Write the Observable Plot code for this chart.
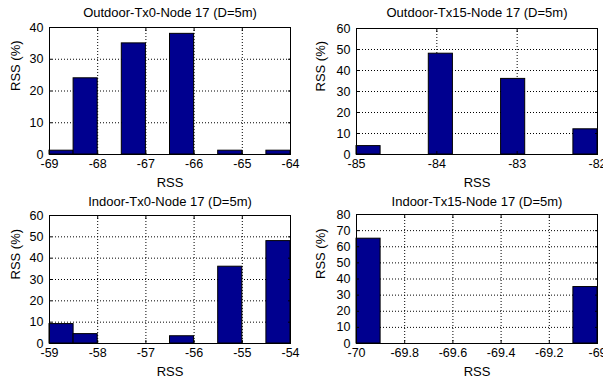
<!DOCTYPE html>
<html><head><meta charset="utf-8">
<script src="https://cdn.jsdelivr.net/npm/d3@7"></script>
<script src="https://cdn.jsdelivr.net/npm/@observablehq/plot@0.6"></script>
<style>
body{margin:0;background:#fff}
#c{position:relative;width:603px;height:380px;overflow:hidden;background:#fff}
.p{position:absolute}
</style>
</head><body><div id="c"></div>
<script>
// ---- Data ----
const titles = ["Outdoor-Tx0-Node 17 (D=5m)", "Outdoor-Tx15-Node 17 (D=5m)", "Indoor-Tx0-Node 17 (D=5m)", "Indoor-Tx15-Node 17 (D=5m)"];
const xLabel = "RSS";
const yLabel = "RSS (%)";

// bin left edges (RSS) and bin width, bar heights (% of samples)
const outTx0Bins = [-69, -68.5, -68, -67.5, -67, -66.5, -66, -65.5, -65, -64.5];
const outTx0Width = 0.5;
const outTx0Vals = [1.2, 24, 0, 35, 0, 38, 0, 1.2, 0, 1.2];

const outTx15Bins = [-85, -84.7, -84.4, -84.1, -83.8, -83.5, -83.2, -82.9, -82.6, -82.3];
const outTx15Width = 0.3;
const outTx15Vals = [4, 0, 0, 48, 0, 0, 36, 0, 0, 12];

const inTx0Bins = [-59, -58.5, -58, -57.5, -57, -56.5, -56, -55.5, -55, -54.5];
const inTx0Width = 0.5;
const inTx0Vals = [9.1, 4.4, 0, 0, 0, 3.4, 0, 36, 0, 48];

const inTx15Bins = [-70, -69.9, -69.8, -69.7, -69.6, -69.5, -69.4, -69.3, -69.2, -69.1];
const inTx15Width = 0.1;
const inTx15Vals = [65, 0, 0, 0, 0, 0, 0, 0, 0, 35];

// axis ticks
const outTx0XTicks = [-69, -68, -67, -66, -65, -64];
const outTx15XTicks = [-85, -84, -83, -82];
const inTx0XTicks = [-59, -58, -57, -56, -55, -54];
const inTx15XTicks = [-70, -69.8, -69.6, -69.4, -69.2, -69];
const outTx0YTicks = [0, 10, 20, 30, 40];
const outTx15YTicks = [0, 10, 20, 30, 40, 50, 60];
const inTx0YTicks = [0, 10, 20, 30, 40, 50, 60];
const inTx15YTicks = [0, 10, 20, 30, 40, 50, 60, 70, 80];

// ---- Drawing ----
const FONT = "'Liberation Sans', Arial, Helvetica, sans-serif";
const BAR = "#00008f";

function panel(cfg) {
  const bars = cfg.bins.map((s, i) => ({x1: s, x2: s + cfg.bw, y: cfg.vals[i]})).filter(d => d.y > 0);
  const xT = cfg.xTicks, yT = cfg.yTicks;
  const xd = [xT[0], xT[xT.length - 1]];
  const yd = [yT[0], yT[yT.length - 1]];
  const grid = {stroke: "#000", strokeOpacity: 1, strokeWidth: 1, strokeDasharray: "1,2"};
  const svg = Plot.plot({
    width: cfg.w, height: cfg.h,
    marginLeft: cfg.ml, marginRight: cfg.mr, marginTop: cfg.mt, marginBottom: cfg.mb,
    x: {domain: xd},
    y: {domain: yd},
    style: {fontFamily: FONT, fontSize: "12.5px", color: "#000", background: "transparent", overflow: "visible"},
    marks: [
      Plot.gridX(xT, grid),
      Plot.gridY(yT, grid),
      Plot.rectY(bars, {x1: "x1", x2: "x2", y1: 0, y2: "y", fill: BAR, stroke: "#000", strokeWidth: 1}),
      Plot.frame({stroke: "#000", strokeWidth: 1}),
      Plot.axisX(xT, {tickSize: 0, tickPadding: 5, tickFormat: d => String(d), label: null, fontSize: 12.5}),
      Plot.axisX(xT, {tickSize: 3, dy: -3, tickFormat: () => "", label: null}),
      Plot.axisX(xT, {anchor: "top", tickSize: 3, dy: 3, tickFormat: () => "", label: null}),
      Plot.axisY(yT, {tickSize: 0, tickPadding: 6, tickFormat: d => String(d), label: null, fontSize: 12.5}),
      Plot.axisY(yT, {tickSize: 3, dx: 3, tickFormat: () => "", label: null}),
      Plot.axisY(yT, {anchor: "right", tickSize: 3, dx: -3, tickFormat: () => "", label: null}),
      Plot.text([cfg.title], {frameAnchor: "top", dy: cfg.titleDy, lineAnchor: "middle", fontSize: 13, fill: "#000"}),
      Plot.text([xLabel], {frameAnchor: "bottom", dy: 28.5, lineAnchor: "middle", fontSize: 13, fill: "#000"}),
      Plot.text([yLabel], {frameAnchor: "left", dx: -cfg.yLabDx, rotate: -90, lineAnchor: "middle", fontSize: 13, fill: "#000"})
    ]
  });
  svg.classList.add("p");
  svg.style.left = cfg.left + "px";
  svg.style.top = cfg.top + "px";
  document.getElementById("c").appendChild(svg);
}

panel({title: titles[0], bins: outTx0Bins, bw: outTx0Width, vals: outTx0Vals, xTicks: outTx0XTicks, yTicks: outTx0YTicks,
  left: 0, top: 0, w: 300, h: 190, ml: 49, mr: 10, mt: 27, mb: 36, titleDy: -14.3, yLabDx: 34});
panel({title: titles[1], bins: outTx15Bins, bw: outTx15Width, vals: outTx15Vals, xTicks: outTx15XTicks, yTicks: outTx15YTicks,
  left: 300, top: 0, w: 303, h: 190, ml: 56, mr: 6, mt: 28, mb: 36, titleDy: -15.3, yLabDx: 36});
panel({title: titles[2], bins: inTx0Bins, bw: inTx0Width, vals: inTx0Vals, xTicks: inTx0XTicks, yTicks: inTx0YTicks,
  left: 0, top: 190, w: 300, h: 190, ml: 49, mr: 10, mt: 25, mb: 37, titleDy: -14, yLabDx: 34});
panel({title: titles[3], bins: inTx15Bins, bw: inTx15Width, vals: inTx15Vals, xTicks: inTx15XTicks, yTicks: inTx15YTicks,
  left: 300, top: 190, w: 303, h: 190, ml: 56, mr: 6, mt: 24, mb: 37, titleDy: -13, yLabDx: 36});
</script>
</body></html>
